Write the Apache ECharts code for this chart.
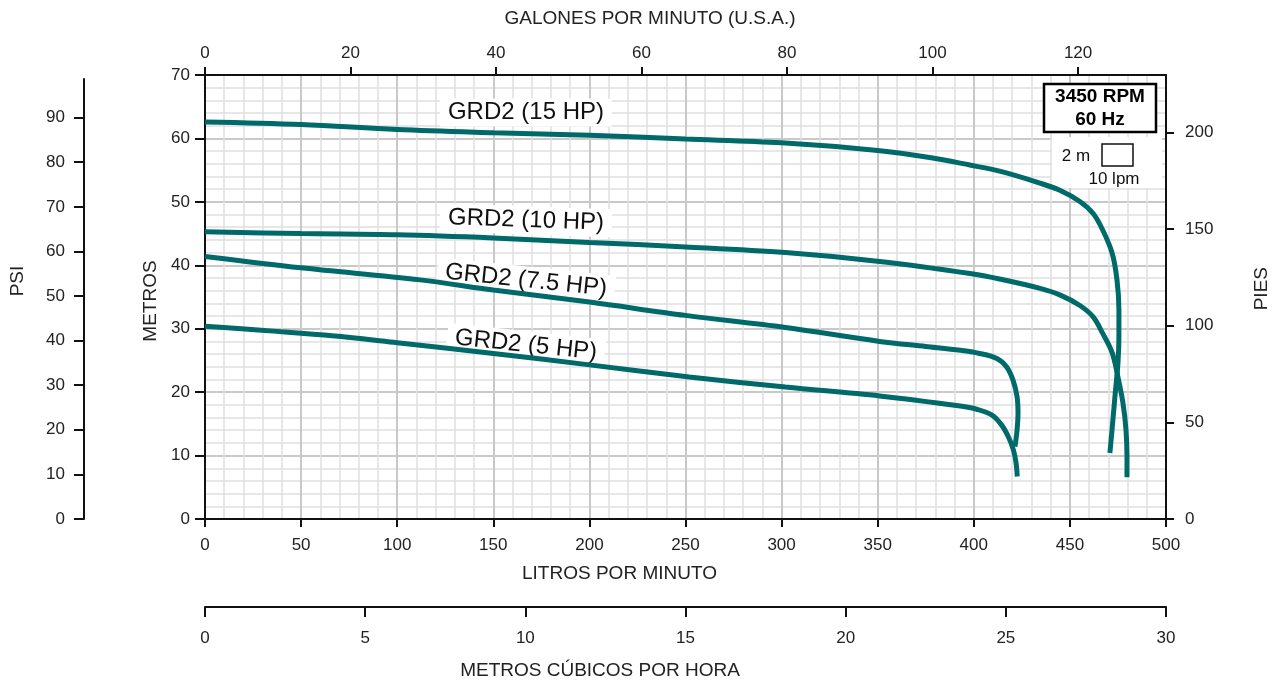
<!DOCTYPE html>
<html><head><meta charset="utf-8">
<script src="https://cdn.jsdelivr.net/npm/echarts@6/dist/echarts.min.js"></script>
<style>html,body{margin:0;padding:0;background:#fff}#c{width:1279px;height:682px}</style>
</head><body><div id="c"></div>
<script>
// ---- data (litros por minuto, metros) ----
const hp15 = [[0,62.6],[50,62.2],[100,61.4],[150,60.9],[200,60.5],[250,59.9],[300,59.3],[350,58.1],[377,57.0],[398,55.8],[414,54.8],[434,53.0],[445,51.8],[455,50.1],[462,48.2],[467,45.6],[472,41.9],[474.5,37.7],[475.5,33.0],[475.5,28.7],[475,24.6],[473.4,19.2],[471.9,14.0],[470.8,10.4]];
const hp10 = [[0,45.3],[50,45.0],[100,44.8],[150,44.3],[200,43.6],[250,42.9],[302,42.0],[351,40.6],[398,38.7],[414,37.8],[434,36.4],[445,35.3],[455,33.7],[462,31.9],[467,29.3],[472,26.2],[475,22.4],[477.6,18.3],[479.2,14.0],[479.7,9.8],[479.7,6.6]];
const hp75 = [[0,41.4],[50,39.6],[112,37.7],[150,36.1],[200,34.2],[250,32.1],[302,30.2],[351,28.0],[375,27.2],[393,26.6],[403,26.1],[412,25.3],[417,24.0],[420.4,21.9],[422.5,19.3],[423,16.7],[422.5,14.0],[421.4,11.4]];
const hp5 = [[0,30.4],[62,29.0],[100,27.8],[150,26.1],[200,24.3],[252,22.4],[302,20.8],[351,19.4],[393,17.8],[401.5,17.3],[409.3,16.4],[414.5,14.8],[417.9,13.0],[420.6,10.9],[422,8.8],[422.6,6.7]];
const seriesNames = ['GRD2 (15 HP)','GRD2 (10 HP)','GRD2 (7.5 HP)','GRD2 (5 HP)'];
// label anchors [lpm, m, rotation deg]
const labelAnchors = [[167,64.1,0],[167,47.1,-2],[167,37.6,-6],[167,27.4,-6]];
const GPM_TOP_TICK = 120, GPM_STEP = 20;
const PIES_TOP_TICK = 200, PIES_STEP = 50;
const psiTicks = [0,10,20,30,40,50,60,70,80,90];
const LPM_MAX = 500, M_MAX = 70;
const GPM_PER_LPM = 1/3.78541, FT_PER_M = 3.28084, PSI_PER_M = 1.42233, M3H_PER_LPM = 0.06;

const FONT = '"Liberation Sans", Arial, sans-serif';
const black = '#111';
const G = {left:205, top:75, width:961, height:444};
const chart = echarts.init(document.getElementById('c'), null, {renderer:'canvas'});
const axisBase = {
  axisLine:{show:true, onZero:false, lineStyle:{color:black, width:2}},
  axisTick:{show:true, length:8, lineStyle:{color:black, width:2}},
  axisLabel:{color:'#222', fontSize:17, fontFamily:FONT},
  splitLine:{show:false},
  nameTextStyle:{color:'#222', fontSize:19, fontFamily:FONT}
};
function ax(o){ return echarts.util.merge(echarts.util.clone(axisBase), o, true); }
const hidden = (gi)=>({gridIndex:gi, type:'value', show:false, min:0, max:1, axisLine:{onZero:false}});
const gridLine = {show:true, lineStyle:{color:'#c9c9c9', width:2}};
const minorLine = {show:true, lineStyle:{color:'#e0e0e0', width:1.5}};
const lineColor = '#006a6a';

const gpmMax = LPM_MAX*GPM_PER_LPM;
const ftMax = M_MAX*FT_PER_M;
const gpmGridW = G.width*GPM_TOP_TICK/gpmMax;
const piesGridH = G.height*PIES_TOP_TICK/ftMax;
const gridBase = {outerBoundsMode:'none', containLabel:false};

const option = {
  animation:false,
  backgroundColor:'#fff',
  textStyle:{fontFamily:FONT},
  grid:[
    Object.assign({left:G.left, top:G.top, width:G.width, height:G.height}, gridBase),
    Object.assign({left:84, top:79, width:1, height:440}, gridBase),
    Object.assign({left:G.left, top:G.top, width:gpmGridW, height:G.height}, gridBase),
    Object.assign({left:G.left, top:G.top+G.height-piesGridH, width:G.width, height:piesGridH}, gridBase)
  ],
  xAxis:[
    ax({gridIndex:0, type:'value', position:'bottom', min:0, max:LPM_MAX, interval:50,
      axisLabel:{margin:18}, splitLine:gridLine, minorTick:{show:false, splitNumber:5}, minorSplitLine:minorLine,
      name:'LITROS POR MINUTO', nameLocation:'middle', nameGap:45, nameTextStyle:{padding:[0,132,0,0]}}),
    ax({gridIndex:0, type:'value', position:'top', min:0, max:LPM_MAX, axisTick:{show:false}, axisLabel:{show:false}}),
    ax({gridIndex:0, type:'value', position:'bottom', offset:88, min:0, max:LPM_MAX*M3H_PER_LPM, interval:5,
      axisTick:{length:10}, axisLabel:{margin:23},
      name:'METROS CÚBICOS POR HORA', nameLocation:'middle', nameGap:54, nameTextStyle:{padding:[0,171,0,0]}}),
    hidden(1),
    ax({gridIndex:2, type:'value', position:'top', min:0, max:GPM_TOP_TICK, interval:GPM_STEP,
      axisLine:{show:false}, axisLabel:{margin:13},
      name:'GALONES POR MINUTO (U.S.A.)', nameLocation:'middle', nameGap:47, nameTextStyle:{padding:[0,0,0,17]}}),
    hidden(3)
  ],
  yAxis:[
    ax({gridIndex:0, type:'value', position:'left', min:0, max:M_MAX, interval:10,
      axisTick:{length:10}, axisLabel:{margin:15}, splitLine:gridLine, minorTick:{show:false, splitNumber:5}, minorSplitLine:minorLine,
      name:'METROS', nameLocation:'middle', nameGap:43, nameTextStyle:{padding:[0,8,0,0]}}),
    ax({gridIndex:0, type:'value', position:'right', min:0, max:ftMax, axisTick:{show:false}, axisLabel:{show:false}}),
    ax({gridIndex:1, type:'value', position:'left', min:0, max:M_MAX*PSI_PER_M*440/444,
      axisTick:{customValues:psiTicks, length:10}, axisLabel:{customValues:psiTicks, margin:19},
      name:'PSI', nameLocation:'middle', nameGap:57, nameTextStyle:{padding:[0,0,0,36]}}),
    hidden(2),
    ax({gridIndex:3, type:'value', position:'right', min:0, max:PIES_TOP_TICK, interval:PIES_STEP,
      axisLine:{show:false}, axisLabel:{margin:19},
      name:'PIES', nameLocation:'middle', nameGap:86, nameTextStyle:{padding:[0,0,0,74]}})
  ],
  series:[hp15,hp10,hp75,hp5].map((d,i)=>({
    type:'line', name:seriesNames[i], xAxisIndex:0, yAxisIndex:0, data:d,
    showSymbol:false, smooth:0.35, lineStyle:{color:lineColor, width:5}, z:5
  }))
};
chart.setOption(option);

const g = [];
labelAnchors.forEach((a,i)=>{
  const p = chart.convertToPixel({xAxisIndex:0, yAxisIndex:0}, [a[0], a[1]]);
  g.push({type:'text', x:p[0], y:p[1], rotation:a[2]*Math.PI/180, z:2,
    style:{text:seriesNames[i], fontSize:24, fontFamily:FONT, fill:'#111', align:'center', verticalAlign:'middle',
      backgroundColor:'#fff', padding:[2,8,2,8]}});
});
// speed/frequency box and grid-scale legend
g.push({type:'rect', z:2, shape:{x:1052, y:137, width:110, height:51}, style:{fill:'#fff'}});
g.push({type:'rect', z:100, shape:{x:1044, y:84, width:112, height:48}, style:{fill:'#fff', stroke:'#000', lineWidth:2.5}});
g.push({type:'text', z:101, x:1100, y:97, style:{text:'3450 RPM', fontSize:19, fontWeight:'bold', fontFamily:FONT, fill:'#000', align:'center', verticalAlign:'middle'}});
g.push({type:'text', z:101, x:1100, y:120, style:{text:'60 Hz', fontSize:19, fontWeight:'bold', fontFamily:FONT, fill:'#000', align:'center', verticalAlign:'middle'}});
g.push({type:'text', z:101, x:1076, y:156, style:{text:'2 m', fontSize:17, fontFamily:FONT, fill:'#111', align:'center', verticalAlign:'middle'}});
g.push({type:'rect', z:101, shape:{x:1102, y:144, width:31, height:22}, style:{fill:'#fff', stroke:'#111', lineWidth:1.5}});
g.push({type:'text', z:101, x:1114, y:179, style:{text:'10 lpm', fontSize:17, fontFamily:FONT, fill:'#111', align:'center', verticalAlign:'middle'}});
chart.setOption({graphic:g});
</script>
</body></html>
